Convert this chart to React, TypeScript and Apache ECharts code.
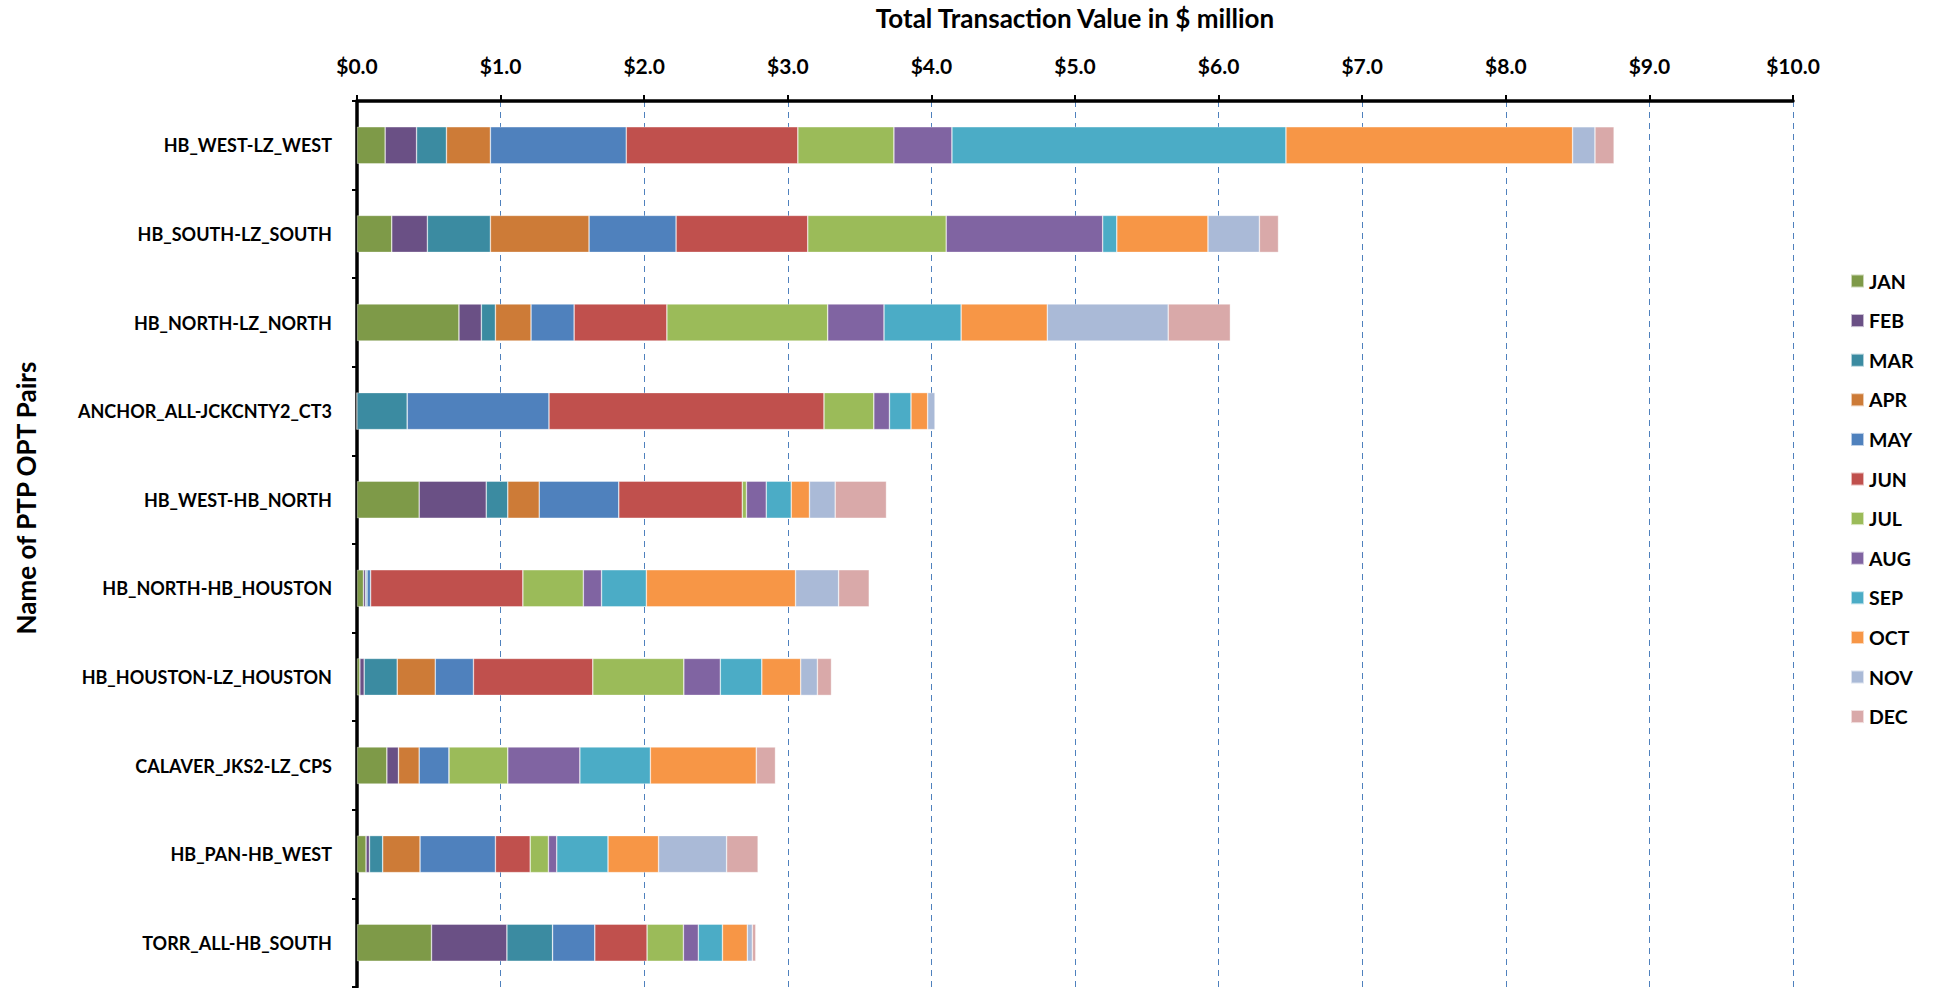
import React, { useEffect, useRef } from "react";
import * as echarts from "echarts";

const categories = [
  "HB_WEST-LZ_WEST",
  "HB_SOUTH-LZ_SOUTH",
  "HB_NORTH-LZ_NORTH",
  "ANCHOR_ALL-JCKCNTY2_CT3",
  "HB_WEST-HB_NORTH",
  "HB_NORTH-HB_HOUSTON",
  "HB_HOUSTON-LZ_HOUSTON",
  "CALAVER_JKS2-LZ_CPS",
  "HB_PAN-HB_WEST",
  "TORR_ALL-HB_SOUTH",
];

const months = ["JAN", "FEB", "MAR", "APR", "MAY", "JUN", "JUL", "AUG", "SEP", "OCT", "NOV", "DEC"];

const monthColors = [
  "#7e9a48", "#6a5085", "#3b8ba1", "#cd7b37", "#4f81bd", "#c0504d",
  "#9bbb59", "#8064a2", "#4bacc6", "#f79646", "#aabad7", "#d9a9a9",
];

// values per month, in category order ($ million)
const JAN = [0.196, 0.242, 0.71, 0.0, 0.433, 0.045, 0.02, 0.208, 0.063, 0.519];
const FEB = [0.219, 0.248, 0.156, 0.0, 0.467, 0.015, 0.03, 0.081, 0.024, 0.525];
const MAR = [0.208, 0.439, 0.098, 0.35, 0.15, 0.01, 0.23, 0.0, 0.092, 0.318];
const APR = [0.306, 0.687, 0.248, 0.0, 0.219, 0.0, 0.265, 0.144, 0.26, 0.0];
const MAY = [0.946, 0.606, 0.3, 0.987, 0.554, 0.025, 0.266, 0.208, 0.525, 0.294];
const JUN = [1.195, 0.917, 0.646, 1.915, 0.86, 1.06, 0.831, 0.0, 0.242, 0.364];
const JUL = [0.669, 0.964, 1.12, 0.347, 0.029, 0.421, 0.634, 0.409, 0.127, 0.253];
const AUG = [0.404, 1.09, 0.392, 0.109, 0.138, 0.127, 0.254, 0.502, 0.058, 0.104];
const SEP = [2.326, 0.098, 0.537, 0.15, 0.174, 0.312, 0.289, 0.491, 0.357, 0.168];
const OCT = [1.996, 0.635, 0.6, 0.116, 0.127, 1.039, 0.271, 0.738, 0.352, 0.173];
const NOV = [0.156, 0.358, 0.842, 0.052, 0.179, 0.3, 0.116, 0.0, 0.474, 0.035];
const DEC = [0.133, 0.133, 0.433, 0.0, 0.357, 0.213, 0.098, 0.133, 0.219, 0.024];

const monthValues = [JAN, FEB, MAR, APR, MAY, JUN, JUL, AUG, SEP, OCT, NOV, DEC];

const yAxisTitle = "Name of PTP OPT Pairs";

const FONT = "Lato, 'Open Sans', sans-serif";

export default function App() {
  const ref = useRef<HTMLDivElement>(null);

  useEffect(() => {
    if (!ref.current) return;
    const chart = echarts.init(ref.current, undefined, { renderer: "svg" });
    chart.setOption({
      animation: false,
      backgroundColor: "#ffffff",
      textStyle: { fontFamily: FONT },
      graphic: [
        {
          type: "text",
          x: 26,
          y: 498,
          rotation: Math.PI / 2,
          style: {
            text: yAxisTitle,
            x: 0,
            y: 0,
            align: "center",
            verticalAlign: "middle",
            fontFamily: FONT,
            fontWeight: "bold",
            fontSize: 26,
            fill: "#000",
          },
        },
      ],
      legend: {
        orient: "vertical",
        left: 1845,
        top: 266,
        itemWidth: 13,
        itemHeight: 13,
        itemGap: 19.6,
        icon: "rect",
        data: months,
        textStyle: { fontFamily: FONT, fontWeight: "bold", fontSize: 19.5, color: "#000" },
      },
      grid: { left: 357, right: 150, top: 95, bottom: 1, containLabel: false },
      xAxis: {
        type: "value",
        position: "top",
        min: 0,
        max: 10,
        interval: 1,
        name: "Total Transaction Value in $ million",
        nameLocation: "middle",
        nameGap: 70,
        nameTextStyle: { fontFamily: FONT, fontWeight: "bold", fontSize: 26, color: "#000" },
        axisLine: { show: true, lineStyle: { color: "#000", width: 3.5 } },
        axisTick: { show: true, length: 6, lineStyle: { color: "#000", width: 2 } },
        axisLabel: {
          margin: 25,
          fontFamily: FONT,
          fontWeight: "bold",
          fontSize: 21,
          color: "#000",
          formatter: (v: number) => "$" + v.toFixed(1),
        },
        splitLine: { show: true, lineStyle: { color: "#4f81bd", type: [6, 5], width: 1 } },
      },
      yAxis: {
        type: "category",
        inverse: true,
        data: categories,
        axisLine: { show: true, lineStyle: { color: "#000", width: 3.5 } },
        axisTick: { show: true, alignWithLabel: false, length: 5, lineStyle: { color: "#000", width: 2 } },
        axisLabel: {
          margin: 25,
          fontFamily: FONT,
          fontWeight: "bold",
          fontSize: 18,
          color: "#000",
        },
        splitLine: { show: false },
      },
      series: months.map((m, i) => ({
        name: m,
        type: "bar",
        stack: "total",
        barWidth: 37,
        data: monthValues[i],
        itemStyle: { color: monthColors[i], borderColor: "rgba(255,255,255,0.6)", borderWidth: 0.6 },
        emphasis: { disabled: true },
      })),
    });
    return () => chart.dispose();
  }, []);

  return (
    <div
      ref={ref}
      style={{ position: "fixed", left: 0, top: 0, width: 1943, height: 988 }}
    />
  );
}
